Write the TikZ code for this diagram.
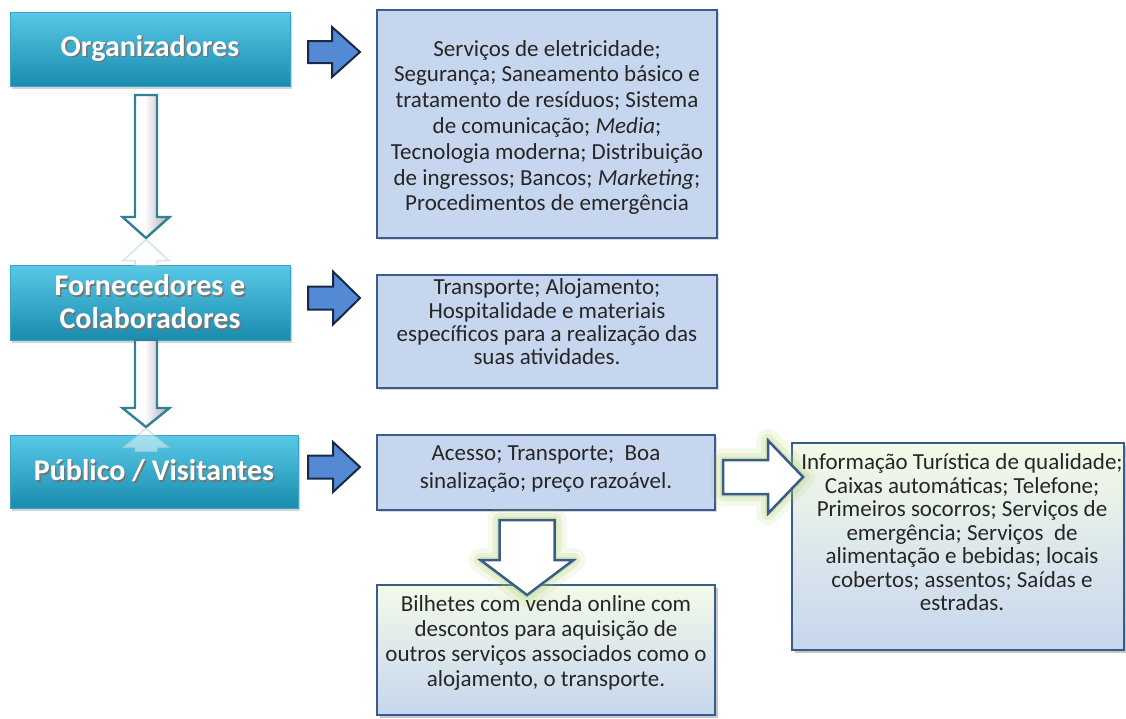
\documentclass[tikz,border=0pt]{standalone}
\usepackage{fontspec}
\setmainfont{Carlito}
\usetikzlibrary{calc,shadows}
\definecolor{tealtop}{RGB}{88,200,230}
\definecolor{tealbot}{RGB}{25,140,175}
\definecolor{tealedge}{RGB}{60,165,195}
\definecolor{boxfill}{RGB}{198,214,238}
\definecolor{boxedge}{RGB}{58,92,140}
\definecolor{arrblue}{RGB}{84,138,212}
\definecolor{arredge}{RGB}{25,40,70}
\definecolor{hollowedge}{RGB}{49,128,150}
\definecolor{glowc}{RGB}{165,205,100}
\definecolor{txt}{RGB}{38,38,38}
\definecolor{paleg}{RGB}{244,250,232}
\definecolor{shadegray}{RGB}{178,168,180}
\pgfdeclarehorizontalshading{tealsh}{100bp}{color(0bp)=(white); color(25bp)=(white); color(48bp)=(white); color(75bp)=(shadegray); color(100bp)=(shadegray)}
\newcommand\sht[1]{\leavevmode\rlap{\kern1.4pt\raisebox{-1.4pt}{\color{black!55}#1}}#1}
\newcommand\rarr[6]{\path[#6] let \p1=(#1), \p2=(#2) in
 (\x1,{\y1+#3pt}) -- ({\x2-#5pt},{\y1+#3pt}) -- ({\x2-#5pt},{\y1+#4pt}) -- (\x2,\y1) -- ({\x2-#5pt},{\y1-#4pt}) -- ({\x2-#5pt},{\y1-#3pt}) -- (\x1,{\y1-#3pt}) -- cycle;}
\newcommand\darr[6]{\path[#6] let \p1=(#1), \p2=(#2) in
 ({\x1-#3pt},\y1) -- ({\x1-#3pt},{\y2+#5pt}) -- ({\x1-#4pt},{\y2+#5pt}) -- (\x1,\y2) -- ({\x1+#4pt},{\y2+#5pt}) -- ({\x1+#3pt},{\y2+#5pt}) -- ({\x1+#3pt},\y1) -- cycle;}
\begin{document}
\begin{tikzpicture}[x=1pt,y=-1pt,
  leftbox/.style={rectangle, draw=tealedge, line width=0.8pt, top color=tealtop, bottom color=tealbot,
    minimum width=280pt, minimum height=74pt, inner sep=0pt, outer sep=0pt, text=white, align=center,
    font=\bfseries\fontsize{30}{35}\selectfont,
    drop shadow={shadow xshift=2pt, shadow yshift=-3pt, opacity=0.35}},
  bluebox/.style={rectangle, draw=boxedge, line width=1.8pt, fill=boxfill, inner sep=0pt, outer sep=0pt,
    drop shadow={shadow xshift=1.5pt, shadow yshift=-2pt, opacity=0.3}},
  gradbox/.style={rectangle, draw=boxedge, line width=1.2pt, top color=paleg, middle color=white!60!paleg, bottom color=boxfill,
    inner sep=0pt, outer sep=0pt, drop shadow={shadow xshift=2.5pt, shadow yshift=-3pt, opacity=0.45}},
  boxtext/.style={align=center, text=txt, inner sep=0pt},
  bluearrow/.style={fill=arrblue, draw=arredge, line width=2pt, line join=miter},
  tealarrow/.style={shading=tealsh, draw=hollowedge, line width=2.4pt, line join=miter},
  reflect/.style={fill=white, draw=hollowedge!45, line width=1.5pt, opacity=0.45},
  hollow/.style={fill=white, draw=boxedge, line width=2.5pt, line join=miter},
  glowA/.style={draw=glowc, line width=24pt, opacity=0.12, line join=round},
  glowB/.style={draw=glowc, line width=14pt, opacity=0.18, line join=round},
  glowC/.style={draw=glowc, line width=6pt, opacity=0.25, line join=round}]
\useasboundingbox (0,0) rectangle (1126,718);

% left column
\node[leftbox] (org) at (150,49) {\sht{Organizadores}};
\node[leftbox, minimum height=75pt] (forn) at (150,302.5) {\sht{Fornecedores e}\\[-2pt]\sht{Colaboradores}};
\node[leftbox, minimum width=288pt, minimum height=73pt] (pub) at (154,471.5) {\sht{Público / Visitantes}};

% right boxes
\node[bluebox, minimum width=340pt, minimum height=228pt] (b1) at (547,124) {};
\node[bluebox, minimum width=340pt, minimum height=113pt] (b2) at (547,331.5) {};
\node[bluebox, minimum width=338pt, minimum height=75pt] (b3) at (546,472.5) {};
\node[gradbox, minimum width=338pt, minimum height=130pt] (b4) at (546,650) {};
\node[gradbox, minimum width=332pt, minimum height=207pt] (b5) at (958,546.5) {};

% coordinates for arrows
\coordinate (r1s) at ($(org.east)+(18,3)$);
\coordinate (r1e) at ($(org.east -| b1.west)+(-17,3)$);
\coordinate (r2s) at ($(forn.east)+(18,-4.5)$);
\coordinate (r2e) at ($(forn.east -| b2.west)+(-17,-4.5)$);
\coordinate (r3s) at ($(pub.east)+(10,-4.5)$);
\coordinate (r3e) at ($(pub.east -| b3.west)+(-17,-4.5)$);
\coordinate (d1s) at ($(org.south)+(-4,9)$);
\coordinate (d1e) at ($(forn.north)+(-4,-27)$);
\coordinate (d2s) at ($(forn.south)+(-4,0)$);
\coordinate (d2e) at ($(pub.north)+(-8,-8)$);
\coordinate (g1s) at ($(b3.east)+(8,4.5)$);
\coordinate (g1e) at ($(b3.east -| b5.west)+(11,4.5)$);
\coordinate (g2s) at ($(b3.south)+(-19,10)$);
\coordinate (g2e) at ($(b4.north)+(-19,10)$);

% blue arrows
\rarr{r1s}{r1e}{11}{25}{28}{bluearrow}
\rarr{r2s}{r2e}{11.5}{26.5}{27}{bluearrow}
\rarr{r3s}{r3e}{11.5}{25}{27}{bluearrow}

% teal hollow down arrows with reflections
\darr{d1s}{d1e}{11}{23.5}{21}{tealarrow}
\path[reflect] ($(d1e)+(0,1.5)$) -- ++(23,21) -- ++(-12,0) -- ++(0,5) -- ++(-22,0) -- ++(0,-5) -- ++(-12,0) -- cycle;
\darr{d2s}{d2e}{11}{23.5}{19}{tealarrow}
\path[reflect] ($(d2e)+(0,1.5)$) -- ++(23,19) -- ++(-12,0) -- ++(0,4) -- ++(-22,0) -- ++(0,-4) -- ++(-12,0) -- cycle;

% green glowing hollow arrows
\rarr{g1s}{g1e}{17}{36.5}{35}{glowA}
\rarr{g1s}{g1e}{17}{36.5}{35}{glowB}
\rarr{g1s}{g1e}{17}{36.5}{35}{glowC}
\darr{g2s}{g2e}{27.5}{46.5}{35}{glowA}
\darr{g2s}{g2e}{27.5}{46.5}{35}{glowB}
\darr{g2s}{g2e}{27.5}{46.5}{35}{glowC}
\rarr{g1s}{g1e}{17}{36.5}{35}{hollow}
\darr{g2s}{g2e}{27.5}{46.5}{35}{hollow}

% texts
\node[boxtext, font=\fontsize{23}{25.8}\selectfont] (t1) at (547,127.5) {Serviços de eletricidade;\\Segurança; Saneamento básico e\\tratamento de resíduos; Sistema\\de comunicação; \textit{Media};\\Tecnologia moderna; Distribuição\\de ingressos; Bancos; \textit{Marketing};\\Procedimentos de emergência};
\node[boxtext, font=\fontsize{23}{23.3}\selectfont] (t2) at (547,322) {Transporte; Alojamento;\\Hospitalidade e materiais\\específicos para a realização das\\suas atividades.};
\node[boxtext, font=\fontsize{23}{28}\selectfont] (t3) at (546,469) {Acesso; Transporte;~ Boa\\sinalização; preço razoável.};
\node[boxtext, font=\fontsize{23}{25}\selectfont] (t4) at (546,642.5) {Bilhetes com venda online com\\descontos para aquisição de\\outros serviços associados como o\\alojamento, o transporte.};
\node[boxtext, font=\fontsize{23}{23.5}\selectfont] (t5) at (962,532.5) {Informação Turística de qualidade;\\Caixas automáticas; Telefone;\\Primeiros socorros; Serviços de\\emergência; Serviços~ de\\alimentação e bebidas; locais\\cobertos; assentos; Saídas e\\estradas.};
\end{tikzpicture}
\end{document}
